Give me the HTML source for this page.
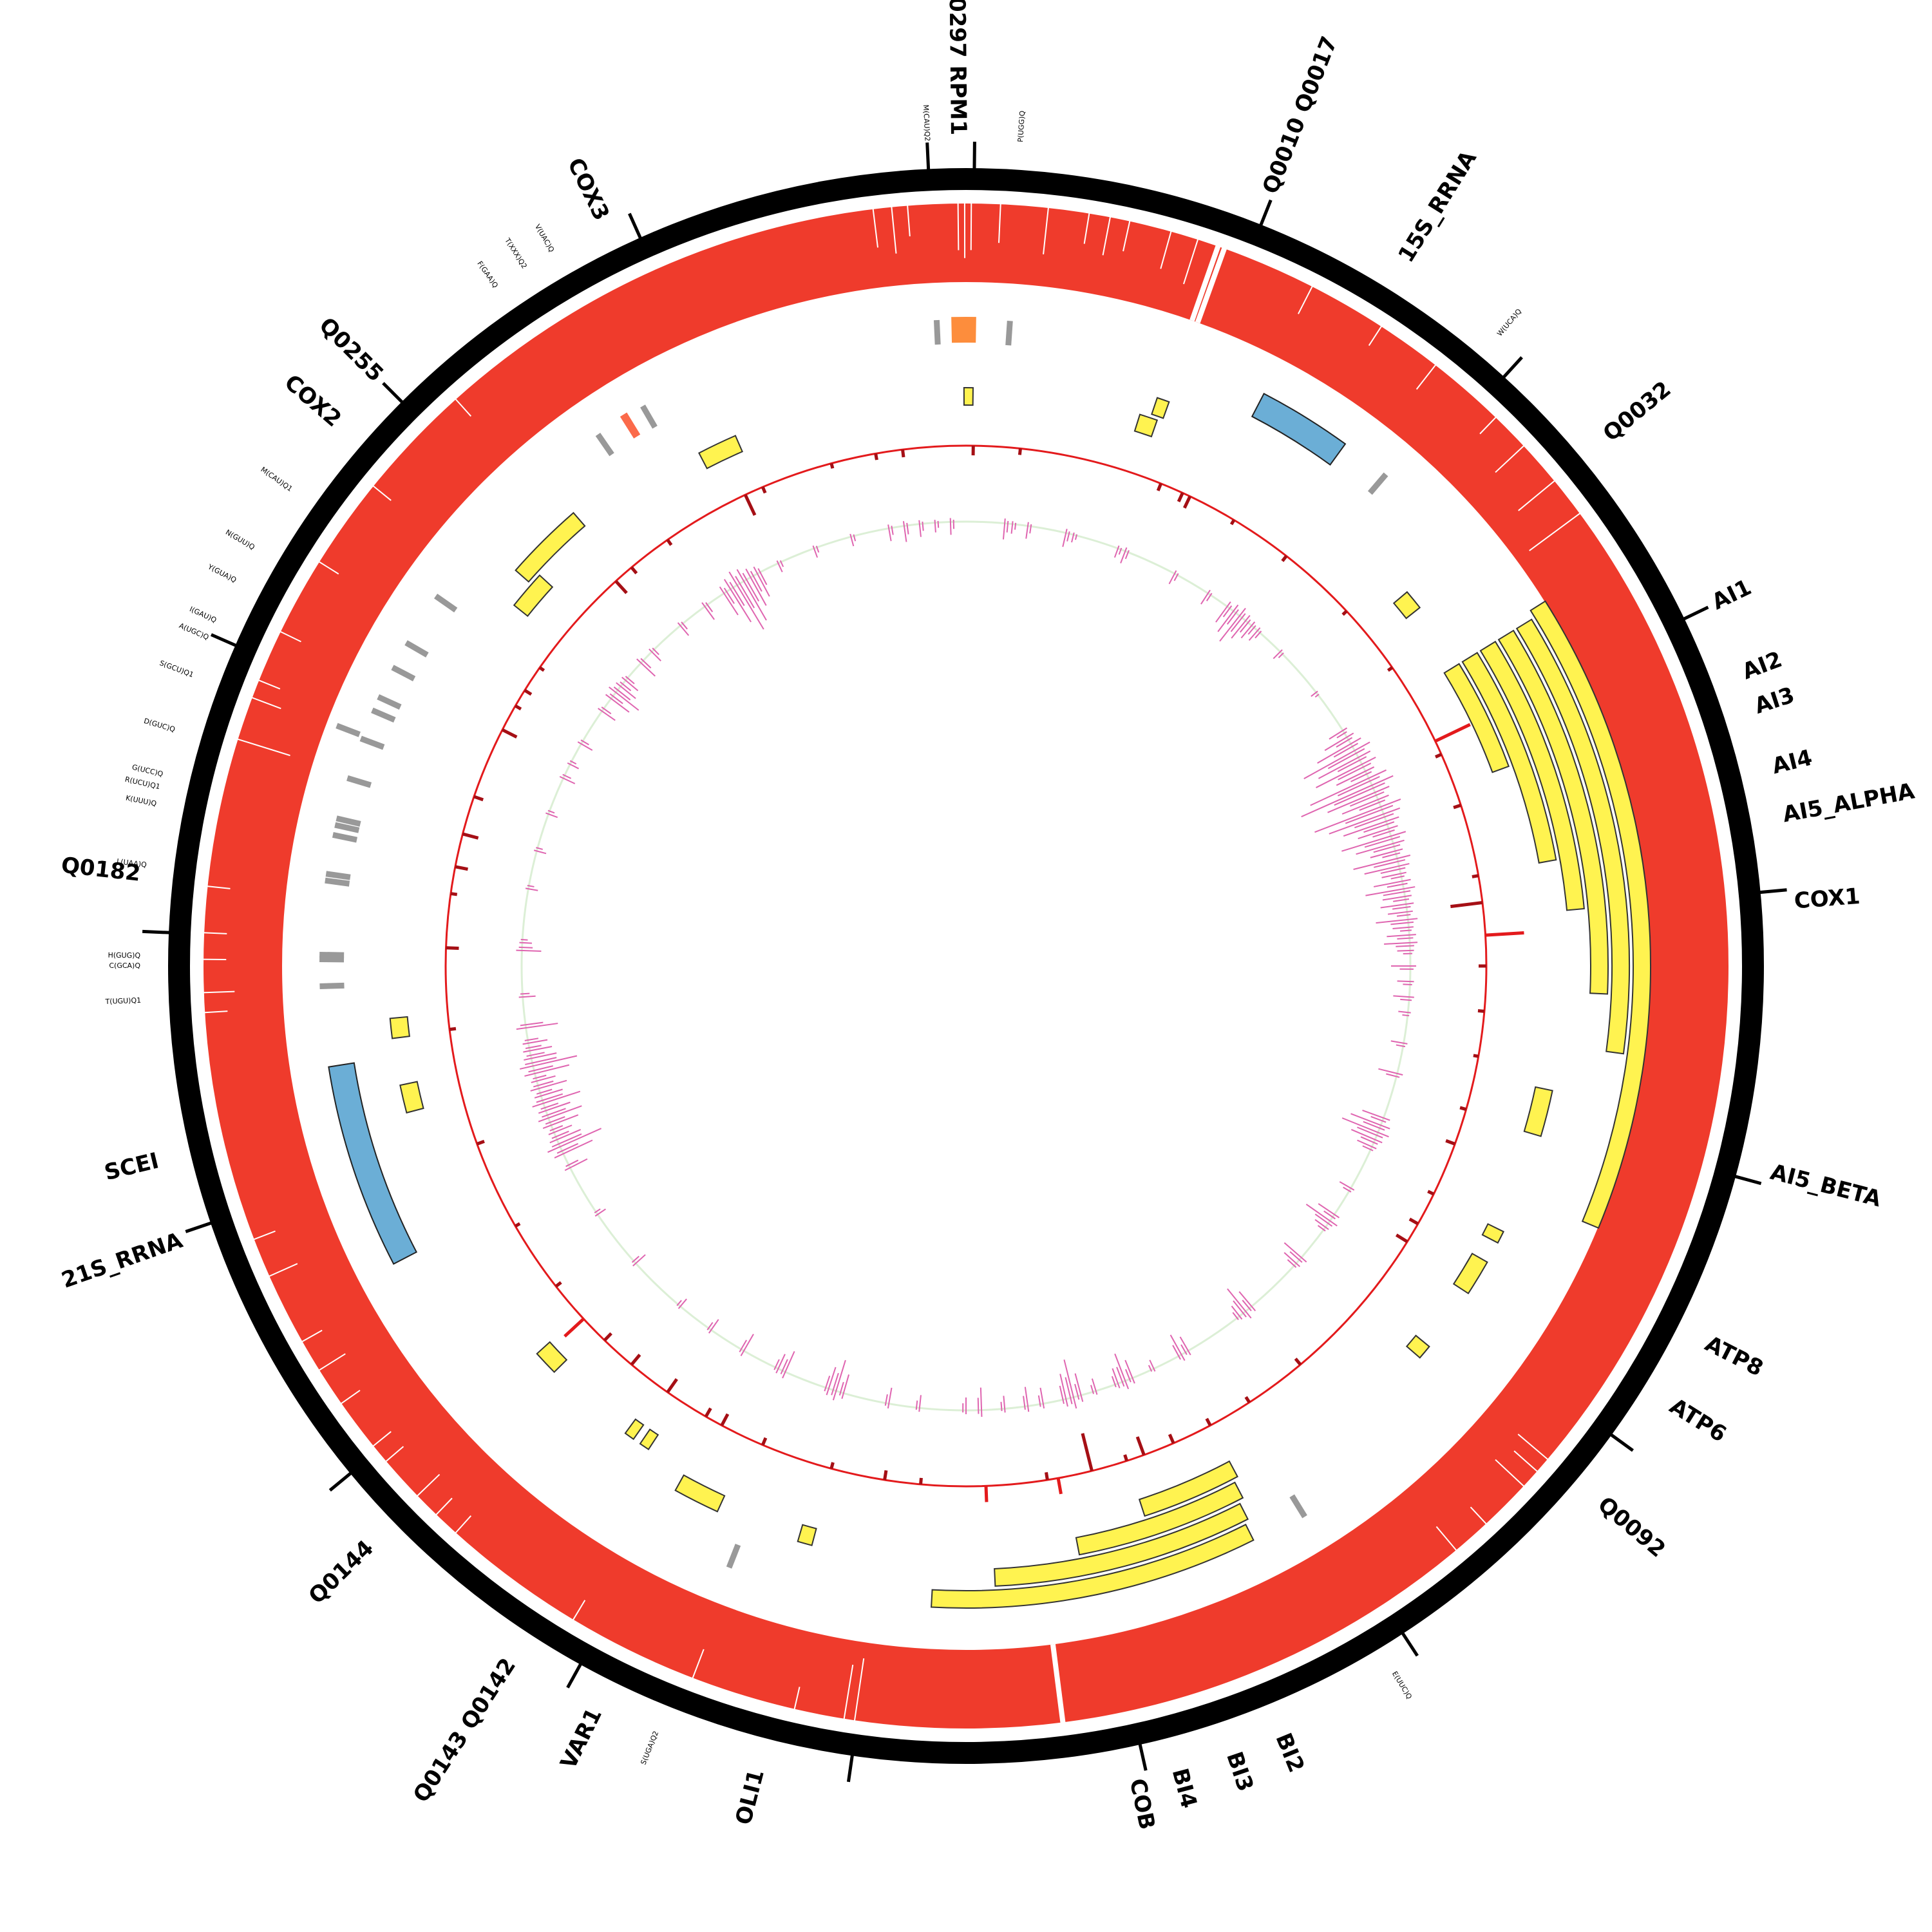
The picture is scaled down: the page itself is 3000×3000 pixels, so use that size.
<!DOCTYPE html>
<html><head><meta charset="utf-8">
<style>
html,body{margin:0;padding:0;background:#fff;}
svg{display:block;}
text{font-family:"DejaVu Sans","Liberation Sans",sans-serif;}
</style></head>
<body>
<svg id="chart" xmlns="http://www.w3.org/2000/svg" width="3000" height="3000" viewBox="0 0 3000 3000">
<rect width="3000" height="3000" fill="#fff"/>
<g id="gaps-layer"></g>
<g id="tiles-layer"></g>
<g id="genes-layer"></g>
<g id="red-layer"></g>
<g id="pink-layer"></g>
<g id="ring-layer"></g>
<g id="label-layer"></g>
</svg>
<script>
// ---- data ----
const bandGapAngles = [-7,-5.6,-4.4,-0.6,-0.1,0.4,2.6,6.2,9.3,10.9,12.4,15.6,17.7,19.3,19.8,27,33,38,44,47,50.5,53.6,130.3,131.5,133,137,140,172.7,188.4,189.2,193,201,211,222,224,226,229.5,231,235,238,240.5,246,249,266.5,268,270.5,272.5,276,287.3,290.6,292,296,302,309,318];
const bandGapDepth = [0.5,0.6,0.4,0.6,0.7,0.6,0.5,0.6,0.4,0.5,0.4,0.5,0.6,1,1,0.4,0.3,0.4,0.3,0.5,0.6,0.8,0.5,0.4,0.5,0.3,0.4,1,0.8,0.7,0.3,0.4,0.3,0.3,0.3,0.4,0.3,0.3,0.3,0.4,0.3,0.4,0.3,0.3,0.4,0.3,0.3,0.3,0.7,0.4,0.3,0.3,0.3,0.3,0.3];

const tileStart = [57.8,58.5,58.5,58.5,58.5,58.5,153.4,153,152.5,152,-0.2,17.5,18.6,49.7,102,116.3,119.6,129.4,194.9,204.5,213.3,215.1,225.4,255.3,262.8,311.3,308.6,332.5];
const tileEnd   = [112.5,97.6,92.5,84.7,79.8,69.8,183.1,177.3,169.1,162,0.7,19.3,19.8,51.7,106.5,117.5,123.1,130.8,196.3,209,214.3,216.1,227.9,258.1,264.8,319.1,312.5,336.5];
const tileTrack = [0,1,2,3,4,5,2,3,4,5,5,5,4,5,4,4,4,4,4,4,5,5,5,5,5,4,5,5];

const geneStart = [27.5,242.5,-1.3,327.8];
const geneEnd   = [36,261,0.9,328.5];
const geneColor = ["#6baed6","#6baed6","#fd8d3c","#fb6a4a"];

const grayAngles = [-2.6,3.9,40.5,148.4,201.5,325.3,330,304.9,300,297.5,294.6,293.3,290.9,290.6,286.9,283.2,282.6,281.7,277.6,278.2,271,270.6,268.2];
const grayRadius = [985,985,985,985,985,985,985,985,985,985,985,985,1027,985,985,985,985,985,985,985,985,985,985];

const redAngles = [0.8,353,6,22,24.6,25.5,31,38,47,55,64.4,66,72,80,83,86.6,90,95,100,106,110,116,119.7,122,140,147,152,156.5,160,162,166,169.8,171,177.8,185,189,195,203,208,210,215,220,224,227.3,232,240,250,263,272,278,281,284.7,289,297,300,302,305,317.7,320,325,334.9,337,345,350];
const redLens   = [-15,-12,-10,-12,-15,-20,-8,-10,-8,-8,60,-10,-12,-10,-50,60,-12,-10,-8,-10,-15,-10,-15,-20,-12,-10,-12,-15,-30,-10,-60,25,-12,25,-10,-15,-10,-12,-20,-15,-25,-20,-15,40,-10,-8,-12,-10,-20,-10,-20,-25,-15,-25,-10,-12,-8,-25,-12,-10,-35,-10,-8,-10];

const pinkAngles = [5,6,8,13,14,20,21,28,33,36,37,38,39,40,41,45,52,58,59,60,61,62,63,64,65,66,67,68,69,70,71,72,73,74,75,76,77,78,79,80,81,82,83,84,85,86,87,88,90,92,94,96,100,104,110,111,112,113,114,120,124,125,126,131,132,140,141,142,150,151,155,158,159,160,163,165,166,167,170,172,175,178,180,186,190,196,197,198,204,205,210,215,220,228,236,243,245,246,247,248,249,250,251,252,253,254,255,256,257,258,259,260,262,266,272,273,280,285,290,295,297,300,305,307,308,309,310,313,315,320,324,327,328,329,330,331,332,335,340,345,350,352,354,356,358];
const pinkAmps   = [25,15,20,22,12,15,20,18,20,30,40,50,35,25,20,15,10,25,40,60,90,70,80,50,100,120,80,60,110,90,70,50,80,60,40,70,55,30,45,60,35,40,30,50,25,35,40,20,30,20,25,15,20,30,35,50,60,40,25,20,30,45,20,35,25,30,45,20,25,35,15,30,45,25,20,35,60,40,25,30,20,35,20,20,25,30,50,35,35,25,30,20,15,20,15,30,50,70,40,30,45,55,40,60,35,45,30,55,70,40,35,30,50,20,30,15,15,15,15,20,15,20,25,35,45,30,25,30,20,20,25,40,60,80,70,50,40,15,15,15,20,25,20,15,20];

const labelNames  = ["Q0297  RPM1","Q0010  Q0017","15S_RRNA","Q0032","AI1","AI2","AI3","AI4","AI5_ALPHA","COX1","AI5_BETA","ATP8","ATP6","Q0092","BI2","BI3","BI4","COB","OLI1","VAR1","Q0143  Q0142","Q0144","21S_RRNA","SCEI","Q0182","COX2","Q0255","COX3"];
const labelAngles = [359.4,21.5,31.9,50.5,64.2,69.4,71.9,76.2,79.6,85.6,104.4,117,121.9,130.2,157.7,161.3,165.2,168.2,194.5,206.4,213.2,225.8,250.7,256.4,276.3,310.8,315,334];
const smallNames  = ["M(CAU)Q2","P(UGG)Q","W(UCA)Q","E(UUC)Q","S(UGA)Q2","T(UGU)Q1","C(GCA)Q","H(GUG)Q","L(UAA)Q","K(UUU)Q","R(UCU)Q1","G(UCC)Q","D(GUC)Q","S(GCU)Q1","A(UGC)Q","I(GAU)Q","Y(GUA)Q","N(GUU)Q","M(CAU)Q1","F(GAA)Q","T(XXX)Q2","V(UAC)Q"];
const smallAngles = [357.3,3.8,40.2,148.8,202,267.6,270,270.7,277,281.3,282.5,283.4,286.6,290.6,293.4,294.7,297.8,300.4,305.2,325.3,327.7,329.9];
const tickAngles  = [0.6,357.3,21.7,42.4,64.2,84.7,105.3,126,146.8,167.4,188.2,208.9,230.5,251.2,272.4,293.7,315,335.9];

// ---- geometry ----
const NS="http://www.w3.org/2000/svg", CX=1500, CY=1500;
function P(r,a){const t=a*Math.PI/180;return [CX+r*Math.sin(t), CY-r*Math.cos(t)];}
function sector(r0,r1,a0,a1){
  const large=(a1-a0)>180?1:0;
  const p1=P(r1,a0),p2=P(r1,a1),p3=P(r0,a1),p4=P(r0,a0);
  return `M${p1[0]},${p1[1]} A${r1},${r1} 0 ${large} 1 ${p2[0]},${p2[1]} L${p3[0]},${p3[1]} A${r0},${r0} 0 ${large} 0 ${p4[0]},${p4[1]} Z`;
}
function mk(tag,attrs,parent){const e=document.createElementNS(NS,tag);for(const k in attrs)e.setAttribute(k,attrs[k]);parent.appendChild(e);return e;}
function trackInner(t){return 1036-33*t;}

// red coverage band
const gl=document.getElementById('gaps-layer');
let band=mk('circle',{cx:CX,cy:CY,r:1123,fill:'none',stroke:'#ef3b2c','stroke-width':122},gl);


bandGapAngles.forEach((a,i)=>{
  const r1=1186, r0=1186-124*bandGapDepth[i];
  const p=P(r1,a),q=P(r0,a);
  const l=mk('line',{x1:p[0],y1:p[1],x2:q[0],y2:q[1],stroke:'#fff','stroke-width':bandGapDepth[i]>0.9?8:2},gl);
  
  
});

// tiles
const tl=document.getElementById('tiles-layer');
tileStart.forEach((s,i)=>{
  const r0=trackInner(tileTrack[i]);
  const path=mk('path',{d:sector(r0,r0+27,s,tileEnd[i]),fill:'#fff350',stroke:'#333','stroke-width':2},tl);
  
  
});

// genes (rRNA etc.)
const gnl=document.getElementById('genes-layer');
geneStart.forEach((s,i)=>{
  const blue=geneColor[i]==="#6baed6";
  const r0=blue?962:968, r1=blue?1002:1008;
  const path=mk('path',{d:sector(r0,r1,s,geneEnd[i]),fill:geneColor[i],stroke:blue?'#222':'none','stroke-width':2},gnl);
  
  
});
grayAngles.forEach((a,i)=>{
  const r=grayRadius[i];
  const p=P(r-19,a),q=P(r+19,a);
  const l=mk('line',{x1:p[0],y1:p[1],x2:q[0],y2:q[1],stroke:'#999','stroke-width':9},gnl);
  
  
});

// red skew track
const rl=document.getElementById('red-layer');
let rc=mk('circle',{cx:CX,cy:CY,r:808,fill:'none',stroke:'#e31a1c','stroke-width':3},rl);


redAngles.forEach((a,i)=>{
  const L=redLens[i];
  const p=P(808,a),q=P(808+L,a);
  const l=mk('line',{x1:p[0],y1:p[1],x2:q[0],y2:q[1],stroke:L>0?'#e31a1c':'#a50f15','stroke-width':5},rl);
  
  
});

// pink variation track
const pl=document.getElementById('pink-layer');
let gc=mk('circle',{cx:CX,cy:CY,r:690,fill:'none',stroke:'#dcefd6','stroke-width':3},pl);


pinkAngles.forEach((a,i)=>{
  const A=pinkAmps[i];
  [[0,1],[0.4,0.55]].forEach(([da,f])=>{
    const aa=a+da, amp=A*f;
    const p=P(690-amp,aa),q=P(690+amp*0.3,aa);
    const l=mk('line',{x1:p[0],y1:p[1],x2:q[0],y2:q[1],stroke:'#df65b0','stroke-width':2},pl);
    
    
  });
});

// ideogram ring and ticks
const ring=document.getElementById('ring-layer');
let oc=mk('circle',{cx:CX,cy:CY,r:1222,fill:'none',stroke:'#000','stroke-width':34},ring);


tickAngles.forEach(a=>{
  const p=P(1238,a),q=P(1280,a);
  const l=mk('line',{x1:p[0],y1:p[1],x2:q[0],y2:q[1],stroke:'#000','stroke-width':5},ring);
  
  
});

// labels
const lab=document.getElementById('label-layer');
function placeLabel(txt,a,r,size,weight){
  const p=P(r,a); const an=((a%360)+360)%360; const right=an>0&&an<180;
  const t=mk('text',{x:0,y:0,'font-size':size,'font-weight':weight,'text-anchor':right?'start':'end','dominant-baseline':'middle',fill:'#000',
    transform:`translate(${p[0]},${p[1]}) rotate(${right?an-90:an+90})`},lab);
  t.textContent=txt;
  return t;
}
labelNames.forEach((n,i)=>{
  const t=placeLabel(n,labelAngles[i],1290,34,'bold');
  
  
});
smallNames.forEach((n,i)=>{
  const t=placeLabel(n,smallAngles[i],1282,11,'normal');
  
  
});
</script>
</body></html>
